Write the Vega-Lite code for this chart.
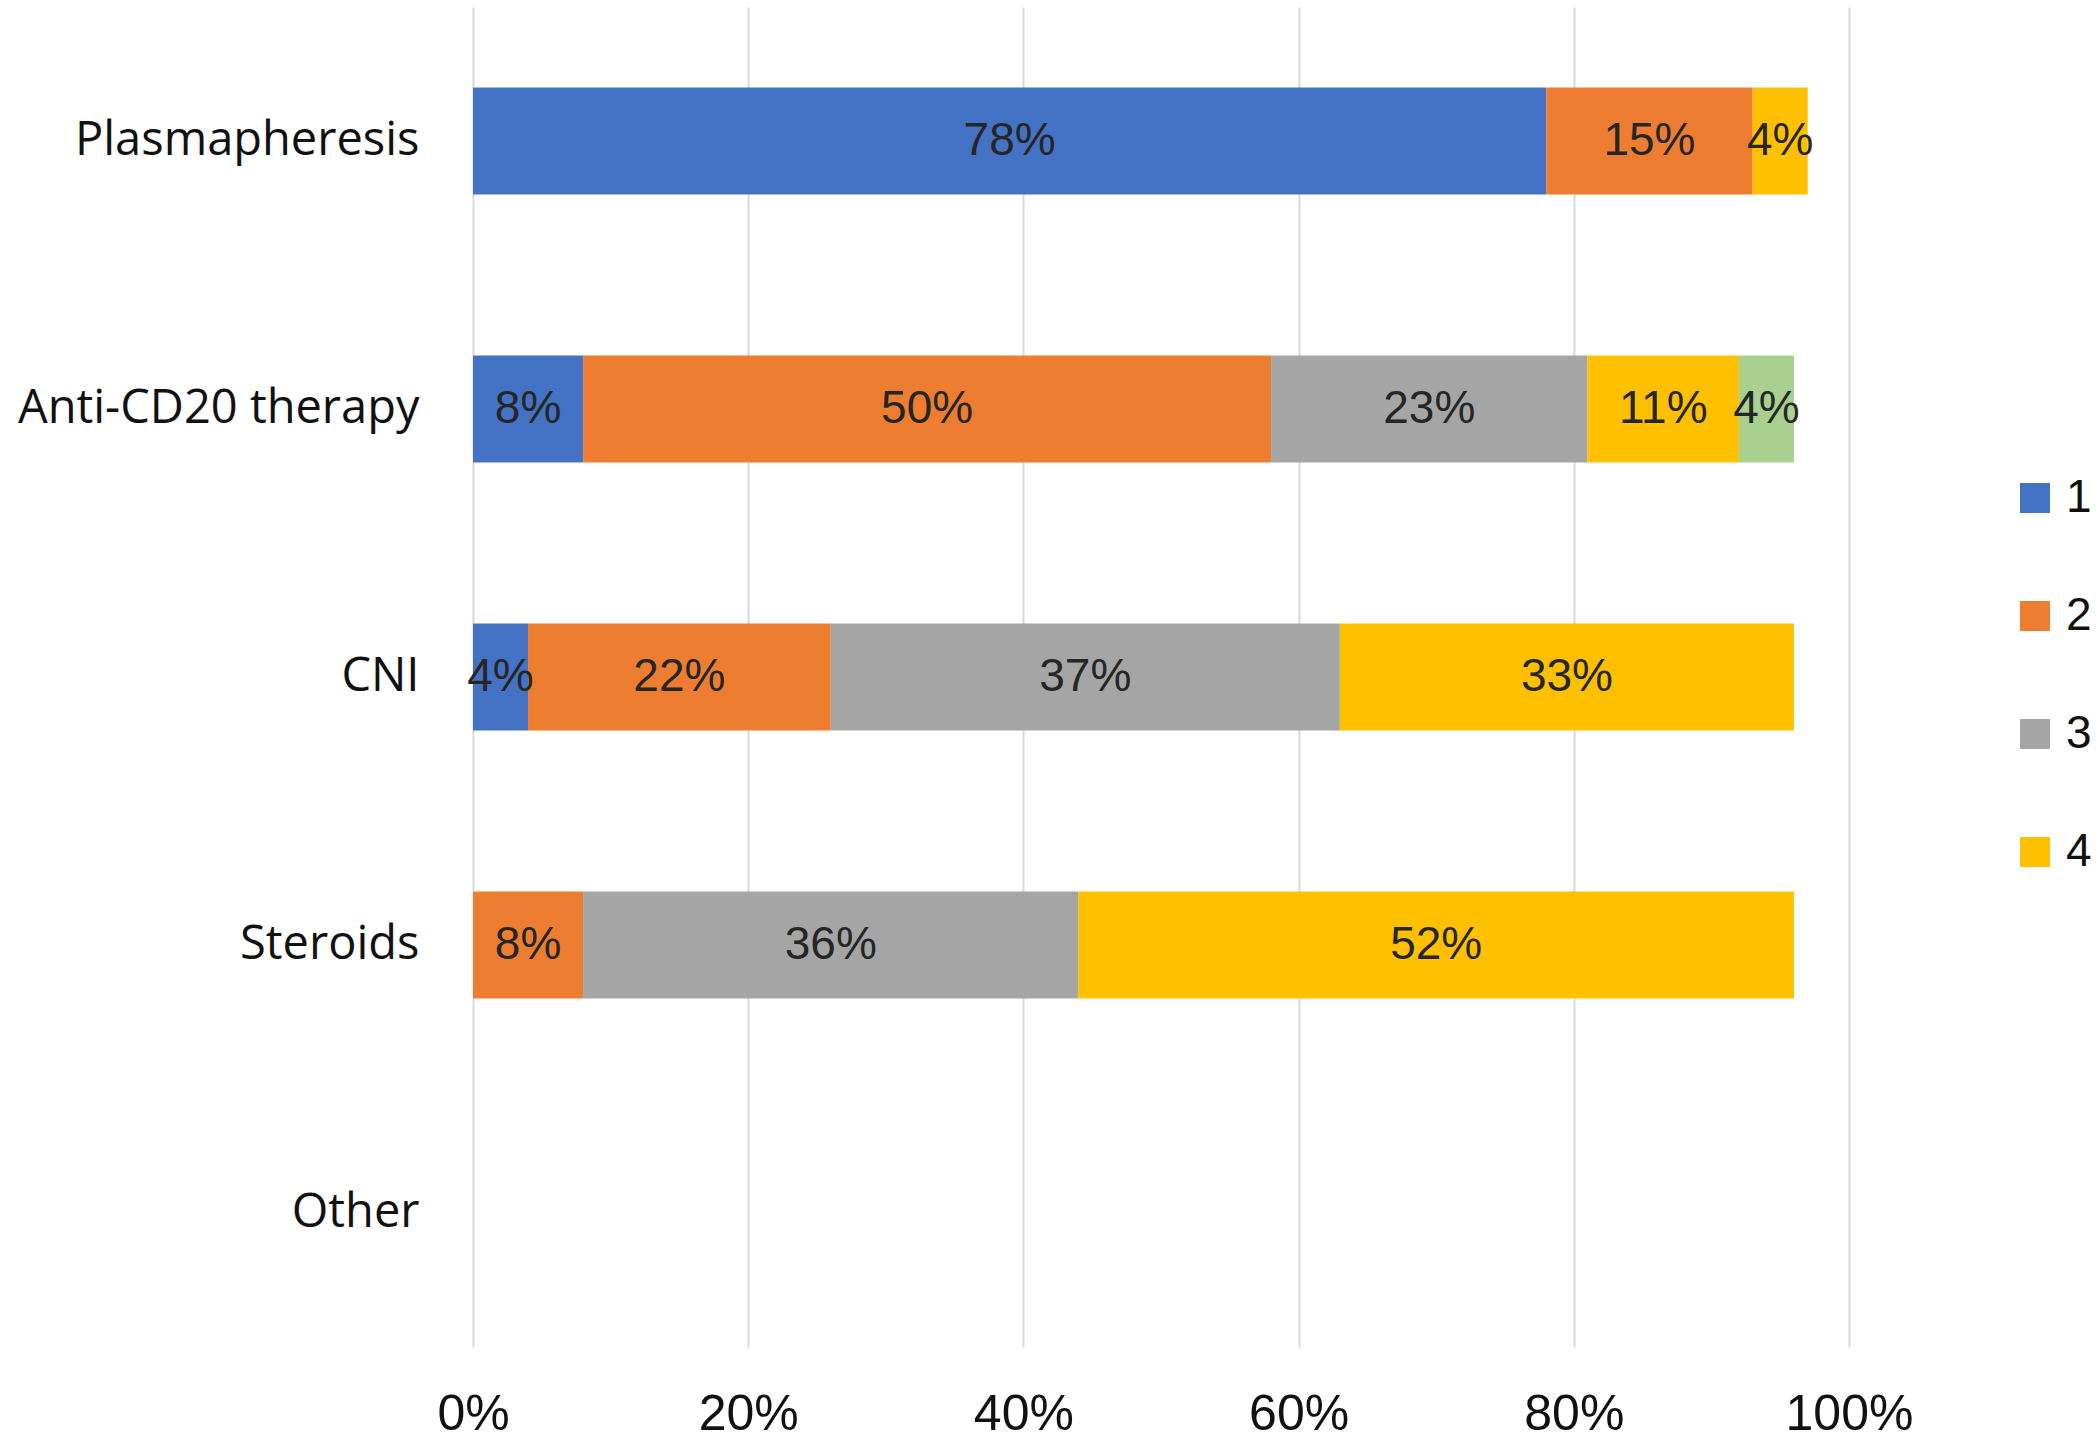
{
  "$schema": "https://vega.github.io/schema/vega-lite/v6.json",
  "width": 1376,
  "height": 1340,
  "autosize": "none",
  "padding": {"left": 473, "top": 7, "right": 251, "bottom": 95},
  "background": "white",
  "config": {"view": {"stroke": null}},
  "data": {
    "values": [
      {"treatment": "Plasmapheresis", "series": "1", "value": 0.78},
      {"treatment": "Plasmapheresis", "series": "2", "value": 0.15},
      {"treatment": "Plasmapheresis", "series": "4", "value": 0.04},
      {"treatment": "Anti-CD20 therapy", "series": "1", "value": 0.08},
      {"treatment": "Anti-CD20 therapy", "series": "2", "value": 0.50},
      {"treatment": "Anti-CD20 therapy", "series": "3", "value": 0.23},
      {"treatment": "Anti-CD20 therapy", "series": "4", "value": 0.11},
      {"treatment": "Anti-CD20 therapy", "series": "5", "value": 0.04},
      {"treatment": "CNI", "series": "1", "value": 0.04},
      {"treatment": "CNI", "series": "2", "value": 0.22},
      {"treatment": "CNI", "series": "3", "value": 0.37},
      {"treatment": "CNI", "series": "4", "value": 0.33},
      {"treatment": "Steroids", "series": "2", "value": 0.08},
      {"treatment": "Steroids", "series": "3", "value": 0.36},
      {"treatment": "Steroids", "series": "4", "value": 0.52}
    ]
  },
  "transform": [
    {"stack": "value", "groupby": ["treatment"], "sort": [{"field": "series", "order": "ascending"}], "as": ["v0", "v1"]},
    {"calculate": "(datum.v0 + datum.v1) / 2", "as": "mid"}
  ],
  "encoding": {
    "y": {
      "field": "treatment",
      "type": "nominal",
      "title": null,
      "scale": {"domain": ["Plasmapheresis", "Anti-CD20 therapy", "CNI", "Steroids", "Other"], "paddingInner": 0.6, "paddingOuter": 0.3},
      "axis": {"domain": false, "ticks": false, "labelFont": "Open Sans", "labelFontSize": 47, "labelColor": "#111111", "labelPadding": 54, "labelLimit": 0}
    }
  },
  "layer": [
    {
      "mark": {"type": "bar"},
      "encoding": {
        "x": {
          "field": "v0",
          "type": "quantitative",
          "title": null,
          "scale": {"domain": [0, 1], "nice": false},
          "axis": {"values": [0, 0.2, 0.4, 0.6, 0.8, 1], "format": ".0%", "grid": true, "gridColor": "#d9d9d9", "gridWidth": 2, "domain": false, "ticks": false, "labelFlush": false, "labelFont": "Liberation Sans Narrow, Liberation Sans", "labelFontSize": 50, "labelColor": "#111111", "labelPadding": 42}
        },
        "x2": {"field": "v1"},
        "color": {
          "field": "series",
          "type": "nominal",
          "scale": {"domain": ["1", "2", "3", "4", "5"], "range": ["#4472C4", "#ED7D31", "#A5A5A5", "#FFC000", "#A9D08E"]},
          "legend": {"values": ["1", "2", "3", "4"], "title": null, "orient": "none", "legendX": 1539, "legendY": 468, "symbolType": "square", "symbolSize": 900, "symbolStrokeWidth": 0, "labelFont": "Liberation Sans Narrow, Liberation Sans", "labelFontSize": 46, "labelColor": "#111111", "labelOffset": 8, "rowPadding": 72}
        }
      }
    },
    {
      "mark": {"type": "text", "font": "Liberation Sans Narrow, Liberation Sans", "fontSize": 46, "color": "#262626", "baseline": "middle", "align": "center"},
      "encoding": {
        "x": {"field": "mid", "type": "quantitative"},
        "text": {"field": "value", "format": ".0%"}
      }
    }
  ]
}
